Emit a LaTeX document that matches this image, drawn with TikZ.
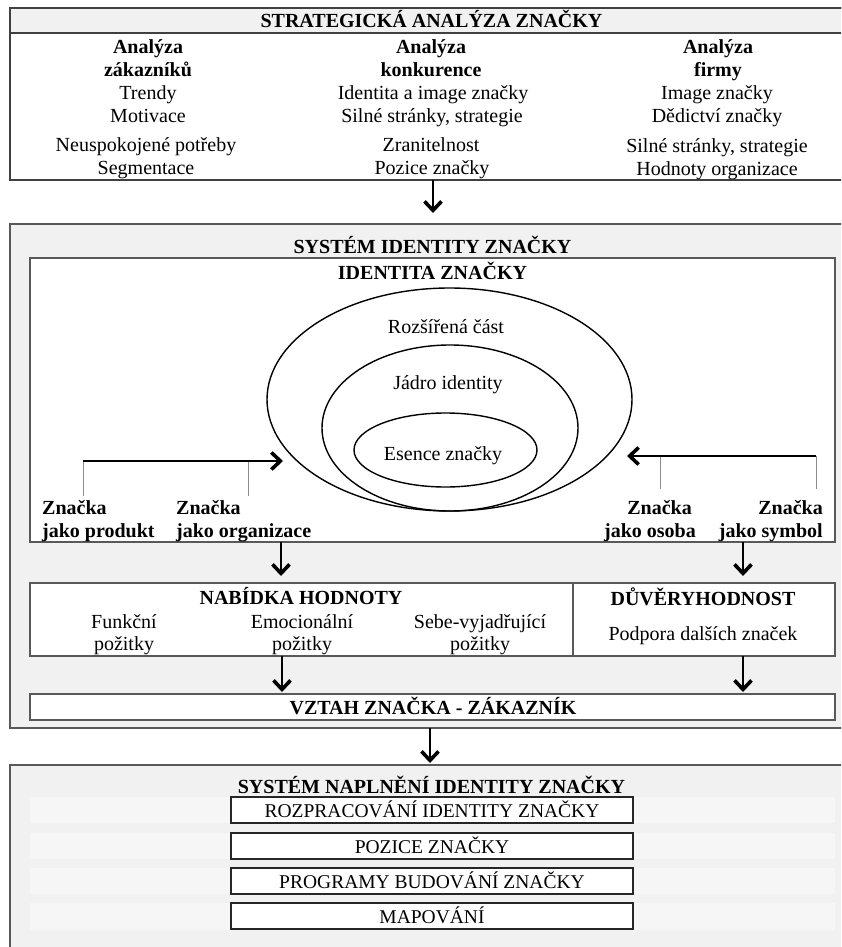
\documentclass[tikz,border=0pt]{standalone}
\usepackage{fontspec}
\setmainfont{Liberation Serif}
\usetikzlibrary{arrows.meta,shapes.geometric}

\definecolor{panel}{HTML}{F1F1F1}
\definecolor{band}{HTML}{F6F6F6}
\definecolor{frameline}{HTML}{595959}
\definecolor{tickline}{HTML}{8C8C8C}

\begin{document}
\begin{tikzpicture}[x=1pt,y=-1pt,
  txt/.style={font=\fontsize{20}{23}\selectfont, inner sep=0pt, anchor=base},
  hd/.style={txt, font=\fontsize{20}{23}\selectfont\bfseries},
  frame/.style 2 args={draw=frameline, line width=1.2pt, inner sep=0pt, outer sep=0pt,
    anchor=north west, minimum width=#1, minimum height=#2},
  step box/.style={frame={402pt}{26pt}, fill=white, draw=black!85,
    font=\fontsize{19.5}{22}\selectfont, text height=15pt, text depth=0pt},
  ring/.style={ellipse, draw=black, line width=1.4pt, inner sep=0pt},
  flow/.style={line width=2pt, -{Straight Barb[length=9pt,width=17pt,line width=3.6pt]}},
  tick/.style={draw=tickline, line width=0.8pt}
]
\useasboundingbox (0,0) rectangle (841,947);
\fill[white] (0,0) rectangle (841,947);
\clip (0,0) rectangle (841,947);

% ---------- strategic brand analysis ----------
\node[frame={843pt}{172pt}, fill=white, draw=black!75, line width=1.5pt] (strat) at (10,8) {};
\node[frame={843pt}{25pt}, fill=panel, draw=black!75, line width=1.5pt] (strathead) at (10,8) {};
\node[hd] (stratTitle) at (431.5,28) {STRATEGICKÁ ANALÝZA ZNAČKY};

\node[hd]  (custA) at (148,53.5) {Analýza};
\node[hd]  (custB) at (148,76.5) {zákazníků};
\node[txt] (custC) at (148,100) {Trendy};
\node[txt] (custD) at (148,123) {Motivace};
\node[txt] (custE) at (146,151) {Neuspokojené potřeby};
\node[txt] (custF) at (146,174) {Segmentace};

\node[hd]  (compA) at (431,53.5) {Analýza};
\node[hd]  (compB) at (431,76.5) {konkurence};
\node[txt] (compC) at (433,100) {Identita a image značky};
\node[txt] (compD) at (432,123) {Silné stránky, strategie};
\node[txt] (compE) at (431,151) {Zranitelnost};
\node[txt] (compF) at (432,174) {Pozice značky};

\node[hd]  (firmA) at (718,53.5) {Analýza};
\node[hd]  (firmB) at (718,76.5) {firmy};
\node[txt] (firmC) at (717,100) {Image značky};
\node[txt] (firmD) at (717,123) {Dědictví značky};
\node[txt] (firmE) at (717,152) {Silné stránky, strategie};
\node[txt] (firmF) at (717,175) {Hodnoty organizace};

% ---------- brand identity system ----------
\node[frame={843pt}{504pt}, fill=panel] (sys) at (10,224) {};
\node[hd] (sysTitle) at (432.5,253) {SYSTÉM IDENTITY ZNAČKY};

\node[frame={805pt}{284pt}, fill=white] (idbox) at (30,258) {};
\node[hd] (idTitle) at (432.5,279) {IDENTITA ZNAČKY};

\node[ring, minimum width=365pt, minimum height=223pt] (extended) at (449.5,399.5) {};
\node[ring, minimum width=256pt, minimum height=166pt] (core) at (450,428) {};
\node[ring, minimum width=183pt, minimum height=74pt] (essence) at (445.5,450) {};
\node[txt] (extendedT) at (446,333) {Rozšířená část};
\node[txt] (coreT) at (448,389) {Jádro identity};
\node[txt] (essenceT) at (443,460) {Esence značky};

% perspectives
\node[hd, anchor=base west] (prodA) at (42,514) {Značka};
\node[hd, anchor=base west] (prodB) at (42,537) {jako produkt};
\node[hd, anchor=base west] (orgA) at (176,514) {Značka};
\node[hd, anchor=base west] (orgB) at (176,537) {jako organizace};
\node[hd, anchor=base east] (persA) at (692,514) {Značka};
\node[hd, anchor=base east] (persB) at (696,537) {jako osoba};
\node[hd, anchor=base east] (symA) at (823,514) {Značka};
\node[hd, anchor=base east] (symB) at (823,537) {jako symbol};

\coordinate (lt1) at (83,461);
\coordinate (lt2) at (248,461);
\coordinate (ltip) at (283,461);
\coordinate (rt1) at (660,456);
\coordinate (rt2) at (816,456);
\coordinate (rtip) at (627,456);

\draw[tick] (lt1) -- ([yshift=4pt]prodA.north -| lt1);
\draw[tick] (lt2) -- ([yshift=4pt]orgA.north -| lt2);
\draw[tick] (rt1) -- ([yshift=11pt]persA.north -| rt1);
\draw[tick] (rt2) -- ([yshift=11pt]symA.north -| rt2);
\draw[flow] (lt1) -- (ltip);
\draw[flow] (rt2) -- (rtip);

% value proposition and credibility
\node[frame={543pt}{73pt}, fill=white] (offer) at (30,583) {};
\node[frame={262pt}{73pt}, fill=white] (trust) at (573,583) {};

\node[hd]  (offerT) at (301,604) {NABÍDKA HODNOTY};
\node[txt] (funcA) at (124,628) {Funkční};
\node[txt] (funcB) at (124,650) {požitky};
\node[txt] (emoA) at (302,628) {Emocionální};
\node[txt] (emoB) at (302,650) {požitky};
\node[txt] (selfA) at (480,628) {Sebe-vyjadřující};
\node[txt] (selfB) at (480,650) {požitky};
\node[hd]  (trustT) at (703,605) {DŮVĚRYHODNOST};
\node[txt] (trustS) at (703,640) {Podpora dalších značek};

\node[frame={805pt}{26pt}, fill=white] (rel) at (30,694) {};
\node[hd] (relT) at (433,714) {VZTAH ZNAČKA - ZÁKAZNÍK};

% ---------- brand identity implementation ----------
\node[frame={843pt}{200pt}, fill=panel] (impl) at (10,765) {};
\fill[band] (30,797) rectangle (835,823);
\fill[band] (30,833) rectangle (835,859);
\fill[band] (30,868) rectangle (835,894);
\fill[band] (30,903) rectangle (835,930);
\node[step box] (elab) at (231,797) {ROZPRACOVÁNÍ IDENTITY ZNAČKY};
\node[step box] (pos) at (231,833) {POZICE ZNAČKY};
\node[step box] (prog) at (231,868) {PROGRAMY BUDOVÁNÍ ZNAČKY};
\node[step box] (map) at (231,903) {MAPOVÁNÍ};
\node[hd] (implT) at (431.5,793) {SYSTÉM NAPLNĚNÍ IDENTITY ZNAČKY};

% ---------- flow between the stages ----------
\coordinate (a1) at (433,213);
\coordinate (a2) at (281,576);
\coordinate (a3) at (743,576);
\coordinate (a4) at (282,692);
\coordinate (a5) at (743,692);
\coordinate (a6) at (430,763);
\draw[flow] (strat.south -| a1) -- (a1);
\draw[flow] (idbox.south -| a2) -- (a2);
\draw[flow] (idbox.south -| a3) -- (a3);
\draw[flow] (offer.south -| a4) -- (a4);
\draw[flow] (trust.south -| a5) -- (a5);
\draw[flow] (sys.south -| a6) -- (a6);
\end{tikzpicture}
\end{document}
